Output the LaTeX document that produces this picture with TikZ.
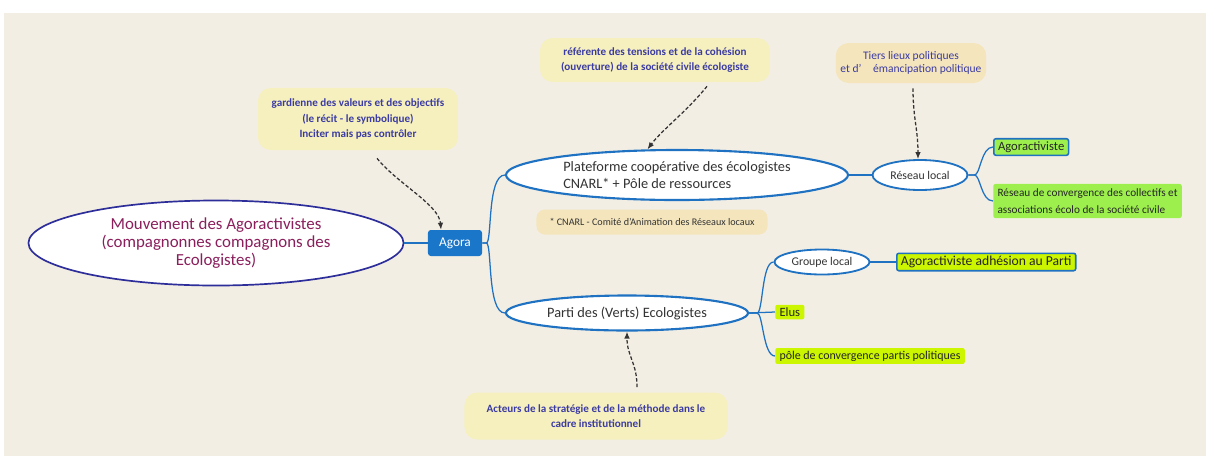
\documentclass[tikz,border=0pt]{standalone}
\usepackage{fontspec}
\setmainfont{Carlito}
\usetikzlibrary{arrows.meta, positioning, shapes.geometric}
\definecolor{paper}{HTML}{F3EEE4}
\definecolor{rootblue}{HTML}{2E2E9A}
\definecolor{rootred}{HTML}{8A1F5C}
\definecolor{hubblue}{HTML}{1F72C2}
\definecolor{agorablue}{HTML}{1A76C9}
\definecolor{notetext}{HTML}{3B3BA3}
\definecolor{noteyellow}{HTML}{F6F0BE}
\definecolor{notetan}{HTML}{F4E5BC}
\definecolor{leafgreen}{HTML}{9CEF4C}
\definecolor{leaflime}{HTML}{CCF500}
\definecolor{textgray}{HTML}{333333}

\begin{document}
\begin{tikzpicture}[x=0.025cm, y=-0.025cm,
    every node/.style={align=center, text=textgray},
    root/.style={ellipse, draw=rootblue, line width=1.2pt, fill=white, text=rootred,
                 font=\fontsize{12}{12.6}\selectfont, inner sep=1pt,
                 minimum width=9.375cm, minimum height=2.125cm},
    hub/.style={ellipse, draw=hubblue, line width=1.5pt, fill=white, inner sep=1pt,
                font=\fontsize{10.2}{11.6}\selectfont},
    sub/.style={ellipse, draw=hubblue, line width=1.3pt, fill=white, inner sep=1pt,
                font=\fontsize{8.4}{10}\selectfont},
    agorabox/.style={rectangle, rounded corners=2pt, fill=agorablue, text=white,
                     font=\fontsize{9.5}{11}\selectfont,
                     minimum width=1.35cm, minimum height=0.65cm},
    leaf/.style={rectangle, rounded corners=1.5pt, fill=leaflime, anchor=west,
                 align=left, inner xsep=3pt, inner ysep=2pt, text=black!85,
                 font=\fontsize{9}{12}\selectfont},
    leafb/.style={leaf, draw=hubblue, line width=1.1pt, fill=leafgreen},
    note/.style={rectangle, rounded corners=9pt, fill=noteyellow, text=notetext,
                 font=\bfseries\fontsize{7.9}{10.7}\selectfont},
    branch/.style={draw=hubblue, line width=0.9pt},
    hint/.style={->, >={Latex[length=5pt, width=4pt]}, draw=textgray, line width=0.9pt,
                 dash pattern=on 2.5pt off 1.5pt}
]
\fill[white] (0,0) rectangle (1206,456);
\fill[paper] (4,13) rectangle (1206,456);
\useasboundingbox (0,0) rectangle (1206,456);

\node[root] (root) at (216,243) {Mouvement des Agoractivistes\\(compagnonnes compagnons des\\Ecologistes)};
\node[agorabox] (agora) at (455,243) {Agora};

\node[hub, minimum width=8.55cm, minimum height=1.25cm, align=left] (plat) at (677,175)
    {Plateforme coopérative des écologistes\\CNARL* + Pôle de ressources};
\node[hub, minimum width=6.05cm, minimum height=0.875cm] (parti) at (627,313)
    {Parti des (Verts) Ecologistes};

\node[sub, minimum width=2.375cm, minimum height=0.75cm] (reseau) at (920,175) {Réseau local};
\node[sub, minimum width=2.375cm, minimum height=0.625cm] (groupe) at (822,262) {Groupe local};

\node[leafb] (agoract) at (993,147) {Agoractiviste};
\node[leaf, fill=leafgreen, font=\fontsize{8}{12.6}\selectfont, inner ysep=3pt] (conv) at (993,201)
    {Réseau de convergence des collectifs et\\associations écolo de la société civile};
\node[leafb, fill=leaflime, font=\fontsize{9.7}{12}\selectfont] (adhesion) at (896,262)
    {Agoractiviste adhésion au Parti};
\node[leaf] (elus) at (775,312) {Elus};
\node[leaf, font=\fontsize{8.5}{12}\selectfont] (pole) at (775,356)
    {pôle de convergence partis politiques};

\node[note, minimum width=5cm, minimum height=1.55cm] (n1) at (358,119)
    {gardienne des valeurs et des objectifs\\(le récit - le symbolique)\\Inciter mais pas contrôler};
\node[note, minimum width=5.75cm, minimum height=1.1cm] (n2) at (655,60)
    {référente des tensions et de la cohésion\\(ouverture) de la société civile écologiste};
\node[note, fill=notetan, minimum width=3.675cm, minimum height=1cm,
      font=\fontsize{8.2}{9}\selectfont] (n3) at (911,63)
    {Tiers lieux politiques\\et d’\quad émancipation politique};
\node[note, minimum width=6.575cm, minimum height=1.175cm] (n4) at (596,416)
    {Acteurs de la stratégie et de la méthode dans le\\cadre institutionnel};
\node[note, fill=notetan, text=textgray, rounded corners=6pt, minimum width=5.775cm,
      minimum height=0.625cm, font=\fontsize{7.2}{8}\selectfont] (foot) at (652,222)
    {* CNARL - Comité d'Animation des Réseaux locaux};

\draw[branch] (root) -- (agora);
\draw[branch] (agora.east) -- ++(4,0) .. controls +(6,0) and +(-18,0) .. (plat.west);
\draw[branch] (agora.east) -- ++(4,0) .. controls +(6,0) and +(-18,0) .. (parti.west);
\draw[branch] (plat) -- (reseau);
\draw[branch] (reseau.east) -- ++(6,0) .. controls +(6,0) and +(-12,0) .. (agoract.west);
\draw[branch] (reseau.east) -- ++(6,0) .. controls +(6,0) and +(-12,0) .. (conv.west);
\draw[branch] (parti.east) -- ++(8,0) .. controls +(6,0) and +(-12,0) .. (groupe.west);
\draw[branch] (parti.east) -- (elus.west);
\draw[branch] (parti.east) -- ++(8,0) .. controls +(6,0) and +(-12,0) .. (pole.west);
\draw[branch] (groupe) -- (adhesion);

\draw[hint] ([shift={(19,8)}]n1.south) .. controls +(20,25) and +(-2,-25) .. ([shift={(-14,0)}]agora.north);
\draw[hint] ([shift={(52,4)}]n2.south) .. controls +(-20,25) and +(15,-20) .. (plat.139);
\draw[hint] ([shift={(2,5)}]n3.south) .. controls +(0,30) and +(0,-30) .. ([shift={(-2,0)}]reseau.north);
\draw[hint] ([shift={(41,-5)}]n4.north) .. controls +(0,-25) and +(0,25) .. (parti.south);
\end{tikzpicture}
\end{document}
